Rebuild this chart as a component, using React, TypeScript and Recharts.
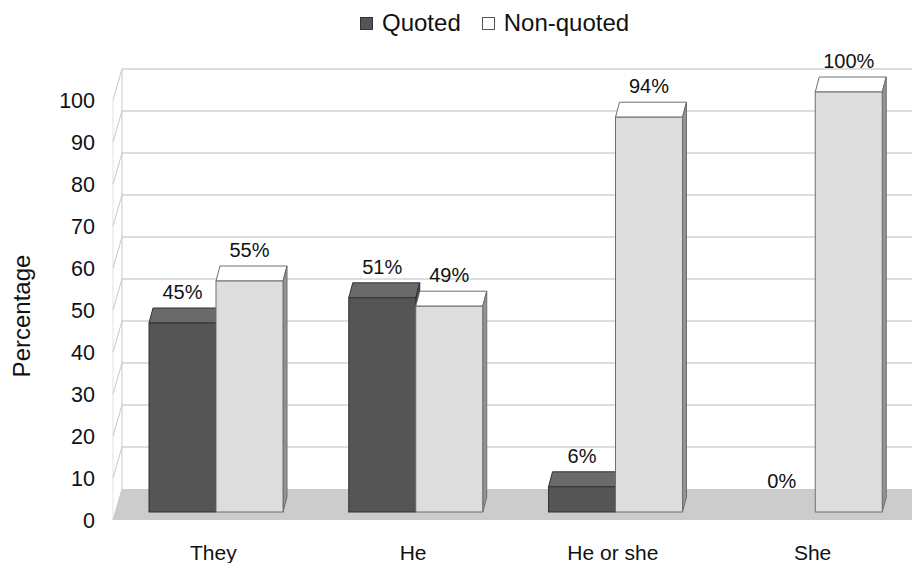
import React from "react";
import { BarChart, Bar, XAxis, YAxis, CartesianGrid, Legend, LabelList } from "recharts";

// values
const categories = ["They", "He", "He or she", "She"];
const quotedPct = [45, 51, 6, 0];
const nonQuotedPct = [55, 49, 94, 100];
const yTicks = [0, 10, 20, 30, 40, 50, 60, 70, 80, 90, 100];
const seriesNames = ["Quoted", "Non-quoted"];

const data = categories.map((name, i) => ({
  name,
  quoted: quotedPct[i],
  nonQuoted: nonQuotedPct[i],
}));

const FONT = "'Liberation Sans', Arial, sans-serif";
const W = 920;
const H = 563;
const Y_AXIS_W = 116;
const X_AXIS_H = 51;
const PLOT_TOP = 92;
const PLOT_BOTTOM = H - X_AXIS_H;

// fake 3D offsets
const BAR_DX = 4;
const BAR_DY = 15;
const BACK_DX = 6;
const BACK_DY = -23;
const FRONT_DX = -3;
const FRONT_DY = 8;

const GridLine = (p: any) => {
  const { x1, x2, y1 } = p;
  const xb = x1 + BACK_DX;
  const yb = y1 + BACK_DY;
  const xf = x1 + FRONT_DX;
  const yf = y1 + FRONT_DY;
  const isBottom = Math.abs(y1 - PLOT_BOTTOM) < 1;
  return (
    <g key={`g-${y1}`}>
      {isBottom && (
        <polygon
          points={`${xf},${yf} ${xb},${yb} ${x2 + 30},${yb} ${x2 + 30},${yf}`}
          fill="#cccccc"
        />
      )}
      {isBottom && (
        <line x1={xb} y1={PLOT_TOP + BACK_DY} x2={xb} y2={yb} stroke="#c8c8c8" />
      )}
      {isBottom && (
        <line x1={xf} y1={PLOT_TOP + FRONT_DY} x2={xf} y2={yf} stroke="#e2e2e2" />
      )}
      {!isBottom && (
        <line x1={xb} y1={yb} x2={x2 + 30} y2={yb} stroke="#bdbdbd" strokeWidth={1.2} />
      )}
      <line x1={xf} y1={yf} x2={xb} y2={yb} stroke="#c8c8c8" />
    </g>
  );
};

const makeBox = (front: string, top: string, side: string, stroke: string) => (p: any) => {
  const { x, y, width: w, height: h } = p;
  if (!(h > 0)) return <g />;
  return (
    <g>
      <polygon
        points={`${x},${y} ${x + BAR_DX},${y - BAR_DY} ${x + w + BAR_DX},${y - BAR_DY} ${x + w},${y}`}
        fill={top}
        stroke={stroke}
      />
      <polygon
        points={`${x + w},${y} ${x + w + BAR_DX},${y - BAR_DY} ${x + w + BAR_DX},${y + h - BAR_DY} ${x + w},${y + h}`}
        fill={side}
        stroke={stroke}
      />
      <rect x={x} y={y} width={w} height={h} fill={front} stroke={stroke} />
    </g>
  );
};

const QuotedBox = makeBox("#555555", "#6a6a6a", "#444444", "#333333");
const NonQuotedBox = makeBox("#dddddd", "#ffffff", "#939393", "#6e6e6e");

const PctLabel = (p: any) => {
  const { x, y, width, value } = p;
  return (
    <text
      x={x + width / 2}
      y={y - 31}
      textAnchor="middle"
      dominantBaseline="central"
      fontSize={20}
      fontFamily={FONT}
      fill="#111"
    >
      {value}%
    </text>
  );
};

const YTick = (p: any) => (
  <text
    x={95}
    y={p.y + 8.5}
    textAnchor="end"
    dominantBaseline="central"
    fontSize={21.5}
    fontFamily={FONT}
    fill="#111"
  >
    {p.payload.value}
  </text>
);

const XTick = (p: any) => (
  <text
    x={p.x - 2.5}
    y={PLOT_BOTTOM + 40}
    textAnchor="middle"
    dominantBaseline="central"
    fontSize={21}
    fontFamily={FONT}
    fill="#111"
  >
    {p.payload.value}
  </text>
);

const YLabel = () => (
  <text
    x={21}
    y={316}
    transform="rotate(-90 21 316)"
    textAnchor="middle"
    dominantBaseline="central"
    fontSize={24}
    fontFamily={FONT}
    fill="#111"
  >
    Percentage
  </text>
);

const swatch: Record<string, { bg: string; border: string }> = {
  Quoted: { bg: "#555555", border: "#333333" },
  "Non-quoted": { bg: "#ffffff", border: "#555555" },
};

const LegendContent = () => (
  <div
    style={{
      display: "flex",
      alignItems: "center",
      fontFamily: FONT,
      fontSize: 24,
      lineHeight: "28px",
      color: "#111",
    }}
  >
    {seriesNames.map((name, i) => {
      const s = swatch[name];
      return (
        <div key={name} style={{ display: "flex", alignItems: "center", marginLeft: i ? 21 : 0 }}>
          <span
            style={{
              display: "inline-block",
              width: 11,
              height: 11,
              background: s.bg,
              border: `1px solid ${s.border}`,
              marginRight: 9,
            }}
          />
          <span>{name}</span>
        </div>
      );
    })}
  </div>
);

export default function App() {
  return (
    <div
      style={{
        position: "fixed",
        left: 0,
        top: 0,
        width: 912,
        height: 563,
        overflow: "hidden",
        background: "#ffffff",
      }}
    >
      <BarChart
        width={W}
        height={H}
        data={data}
        margin={{ top: PLOT_TOP, right: 5, bottom: 0, left: 0 }}
        barSize={67}
        barGap={0}
      >
        <CartesianGrid vertical={false} horizontal={GridLine} />
        <XAxis
          dataKey="name"
          height={X_AXIS_H}
          axisLine={false}
          tickLine={false}
          tickSize={0}
          tick={XTick}
          interval={0}
        />
        <YAxis
          domain={[0, 100]}
          ticks={yTicks}
          width={Y_AXIS_W}
          axisLine={false}
          tickLine={false}
          tickSize={0}
          tick={YTick}
          label={<YLabel />}
        />
        <Legend
          verticalAlign="middle"
          align="center"
          layout="horizontal"
          wrapperStyle={{ top: 9, left: 360, width: 400 }}
          content={LegendContent}
        />
        <Bar
          dataKey="quoted"
          name={seriesNames[0]}
          fill="#555555"
          shape={QuotedBox}
          isAnimationActive={false}
        >
          <LabelList dataKey="quoted" content={PctLabel} />
        </Bar>
        <Bar
          dataKey="nonQuoted"
          name={seriesNames[1]}
          fill="#dddddd"
          shape={NonQuotedBox}
          isAnimationActive={false}
        >
          <LabelList dataKey="nonQuoted" content={PctLabel} />
        </Bar>
      </BarChart>
    </div>
  );
}
